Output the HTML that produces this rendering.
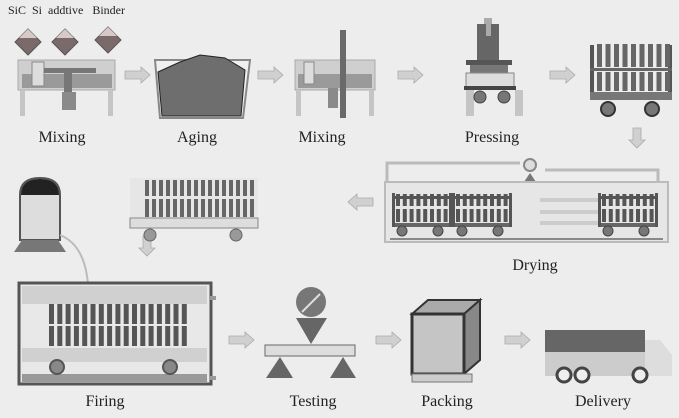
<!DOCTYPE html>
<html><head><meta charset="utf-8"><style>
html,body{margin:0;padding:0;background:#ededed;}
svg{display:block}
text{font-family:"Liberation Serif",serif;fill:#222}
</style></head><body>
<svg id="s" width="679" height="418" viewBox="0 0 679 418" xmlns="http://www.w3.org/2000/svg">
<rect width="679" height="418" fill="#ededed"/>
<text x="8" y="14" font-size="12">SiC&#160;&#160;Si&#160;&#160;addtive&#160;&#160;&#160;Binder</text>
<g stroke="#555" stroke-width="1">
<polygon points="28,29 41,42 28,55 15,42" fill="#7a6a6a"/>
<polygon points="65,29 78,42 65,55 52,42" fill="#7a6a6a"/>
<polygon points="108,27 121,40 108,53 95,40" fill="#7a6a6a"/>
</g>
<polygon points="28,29 37,38 19,38" fill="#d8c8c8"/><polygon points="65,29 74,38 56,38" fill="#d8c8c8"/><polygon points="108,27 117,36 99,36" fill="#d8c8c8"/>
<rect x="18" y="60" width="97" height="30" fill="#cfcfcf" stroke="#aaa"/>
<rect x="22" y="74" width="90" height="14" fill="#9a9a9a"/>
<rect x="32" y="62" width="12" height="24" fill="#ddd" stroke="#888"/>
<rect x="44" y="68" width="52" height="5" fill="#777"/>
<rect x="64" y="72" width="8" height="38" fill="#777"/>
<rect x="62" y="92" width="14" height="18" fill="#8a8a8a"/>
<rect x="20" y="90" width="5" height="26" fill="#c5c5c5"/><rect x="108" y="90" width="5" height="26" fill="#c5c5c5"/>
<polygon points="155,60 250,60 243,118 160,118" fill="#f0f0f0" stroke="#888" stroke-width="2"/>
<polygon points="158,72 180,62 200,55 225,58 245,70 241,116 162,116" fill="#6e6e6e" stroke="#222" stroke-width="1"/>
<rect x="295" y="60" width="80" height="30" fill="#cfcfcf" stroke="#aaa"/>
<rect x="298" y="74" width="74" height="14" fill="#9a9a9a"/>
<rect x="304" y="62" width="10" height="22" fill="#ddd" stroke="#888"/>
<rect x="340" y="30" width="6" height="88" fill="#6a6a6a"/>
<rect x="296" y="90" width="5" height="26" fill="#c5c5c5"/><rect x="369" y="90" width="5" height="26" fill="#c5c5c5"/>
<rect x="328" y="88" width="10" height="20" fill="#8a8a8a"/>
<rect x="484" y="18" width="8" height="8" fill="#aaa"/>
<rect x="477" y="24" width="22" height="37" fill="#666"/>
<rect x="486" y="24" width="5" height="12" fill="#aaa"/>
<rect x="466" y="60" width="46" height="5" fill="#555"/>
<rect x="470" y="65" width="38" height="10" fill="#777"/>
<rect x="466" y="73" width="48" height="14" fill="#ddd" stroke="#888"/>
<rect x="464" y="86" width="52" height="4" fill="#444"/>
<rect x="466" y="90" width="8" height="26" fill="#c5c5c5"/><rect x="515" y="90" width="8" height="26" fill="#c5c5c5"/>
<circle cx="480" cy="97" r="6" fill="#777" stroke="#444"/><circle cx="504" cy="97" r="6" fill="#777" stroke="#444"/>
<rect x="590" y="45" width="4" height="55" fill="#555"/><rect x="668" y="45" width="4" height="55" fill="#555"/>
<rect x="590" y="68" width="82" height="3" fill="#666"/>
<rect x="590" y="92" width="82" height="8" fill="#777"/>
<g id="c1" fill="#666"></g>
<circle cx="608" cy="109" r="7" fill="#777" stroke="#333" stroke-width="2"/><circle cx="652" cy="109" r="7" fill="#777" stroke="#333" stroke-width="2"/>
<g font-size="16" text-anchor="middle">
<text x="62" y="142">Mixing</text><text x="197" y="142">Aging</text><text x="322" y="142">Mixing</text><text x="492" y="142">Pressing</text>
<text x="535" y="270">Drying</text>
<text x="105" y="406">Firing</text><text x="313" y="406">Testing</text><text x="447" y="406">Packing</text><text x="603" y="406">Delivery</text>
</g>
<g fill="#d0d0d0" stroke="#aaa" stroke-width="0.8" id="arr"></g>
<path d="M20,195 Q20,178 40,178 Q60,178 60,195 L60,240 L20,240 Z" fill="#ddd" stroke="#555" stroke-width="2"/>
<path d="M21,195 Q21,179 40,179 Q59,179 59,195 Z" fill="#222"/>
<polygon points="22,240 58,240 66,252 14,252" fill="#777"/>
<path d="M60,235 Q85,245 88,285" fill="none" stroke="#bbb" stroke-width="2"/>
<rect x="130" y="178" width="128" height="40" fill="#e6e6e6"/>
<g id="c2" fill="#666"></g>
<rect x="130" y="218" width="128" height="10" fill="#ddd" stroke="#888"/>
<circle cx="150" cy="235" r="6" fill="#999" stroke="#666"/><circle cx="236" cy="235" r="6" fill="#999" stroke="#666"/>
<path d="M387,182 V163 H520 M545,170 H658 V182" fill="none" stroke="#bbb" stroke-width="3"/>
<circle cx="530" cy="165" r="6" fill="#ddd" stroke="#888" stroke-width="2"/>
<polygon points="524,182 536,182 530,173" fill="#777"/>
<rect x="385" y="182" width="283" height="60" fill="#e6e6e6" stroke="#bbb" stroke-width="2"/>
<rect x="540" y="198" width="60" height="4" fill="#ccc"/><rect x="540" y="210" width="60" height="4" fill="#ccc"/><rect x="540" y="221" width="60" height="4" fill="#ccc"/>
<rect x="390" y="238" width="273" height="2" fill="#888"/>
<g id="c3" fill="#555"></g>
<rect x="19" y="283" width="192" height="101" fill="#e8e8e8" stroke="#555" stroke-width="3"/>
<rect x="22" y="286" width="185" height="18" fill="#d0d0d0"/>
<rect x="22" y="348" width="185" height="14" fill="#d0d0d0"/>
<rect x="22" y="374" width="185" height="8" fill="#999"/>
<g id="c4" fill="#555"></g>
<circle cx="57" cy="367" r="7" fill="#888" stroke="#555" stroke-width="2"/><circle cx="170" cy="367" r="7" fill="#888" stroke="#555" stroke-width="2"/>
<rect x="210" y="296" width="6" height="4" fill="#999"/><rect x="210" y="376" width="6" height="4" fill="#999"/>
<circle cx="311" cy="302" r="15" fill="#777"/>
<line x1="302" y1="312" x2="320" y2="294" stroke="#ddd" stroke-width="2"/>
<polygon points="296,318 327,318 311,344" fill="#666"/>
<rect x="265" y="345" width="90" height="11" fill="#ddd" stroke="#666"/>
<polygon points="266,378 293,378 280,357" fill="#666"/><polygon points="330,378 356,378 343,357" fill="#666"/>
<polygon points="412,314 428,300 480,300 464,314" fill="#aaa" stroke="#333" stroke-width="2"/>
<polygon points="464,314 480,300 480,360 464,374" fill="#888" stroke="#333" stroke-width="2"/>
<rect x="412" y="314" width="52" height="60" fill="#c5c5c5" stroke="#333" stroke-width="3"/>
<rect x="412" y="374" width="60" height="8" fill="#ccc" stroke="#777"/>
<rect x="545" y="330" width="100" height="22" fill="#666"/>
<rect x="545" y="352" width="110" height="24" fill="#ccc"/>
<polygon points="645,340 660,340 672,355 672,376 645,376" fill="#ddd"/>
<circle cx="564" cy="375" r="7" fill="#eee" stroke="#444" stroke-width="3"/><circle cx="582" cy="375" r="7" fill="#eee" stroke="#444" stroke-width="3"/><circle cx="640" cy="375" r="7" fill="#eee" stroke="#444" stroke-width="3"/>
</svg>
<script>
var NS="http://www.w3.org/2000/svg";
function R(g,x,y,w,h,f){var r=document.createElementNS(NS,"rect");r.setAttribute("x",x);r.setAttribute("y",y);r.setAttribute("width",w);r.setAttribute("height",h);if(f)r.setAttribute("fill",f);g.appendChild(r);}
var c1=document.getElementById("c1");
for(var i=0;i<9;i++){R(c1,597+i*8.5,44,5,23);R(c1,597+i*8.5,72,5,19);}
var c2=document.getElementById("c2");
for(var i=0;i<16;i++){R(c2,145+i*7,180,4,16);R(c2,145+i*7,199,4,18);}
var c3=document.getElementById("c3");
[392,452,598].forEach(function(x0){
 R(c3,x0,196,58,3,"#555");R(c3,x0,223,58,4,"#666");R(c3,x0,193,3,34);R(c3,x0+57,193,3,34);
 for(var i=0;i<8;i++){R(c3,x0+4+i*6.8,194,4,12);R(c3,x0+4+i*6.8,209,4,13);}
 [x0+10,x0+46].forEach(function(cx){var c=document.createElementNS(NS,"circle");c.setAttribute("cx",cx);c.setAttribute("cy",231);c.setAttribute("r",5);c.setAttribute("fill","#777");c.setAttribute("stroke","#444");c3.appendChild(c);});
});
var c4=document.getElementById("c4");
for(var i=0;i<17;i++){R(c4,49+i*8.3,304,5,20);R(c4,49+i*8.3,326,5,20);}
var a=document.getElementById("arr");
function arrow(x,y,d){var p=document.createElementNS(NS,"polygon");var pts;
 if(d=="r")pts=[[x,y-4],[x+16,y-4],[x+16,y-8],[x+25,y],[x+16,y+8],[x+16,y+4],[x,y+4]];
 else if(d=="l")pts=[[x+25,y-4],[x+9,y-4],[x+9,y-8],[x,y],[x+9,y+8],[x+9,y+4],[x+25,y+4]];
 else pts=[[x-4,y],[x+4,y],[x+4,y+12],[x+8,y+12],[x,y+20],[x-8,y+12],[x-4,y+12]];
 p.setAttribute("points",pts.map(function(q){return q.join(",")}).join(" "));a.appendChild(p);}
arrow(125,75,"r");arrow(258,75,"r");arrow(398,75,"r");arrow(550,75,"r");
arrow(637,128,"d");arrow(348,202,"l");arrow(147,236,"d");
arrow(229,340,"r");arrow(376,340,"r");arrow(505,340,"r");
</script>
</body></html>
